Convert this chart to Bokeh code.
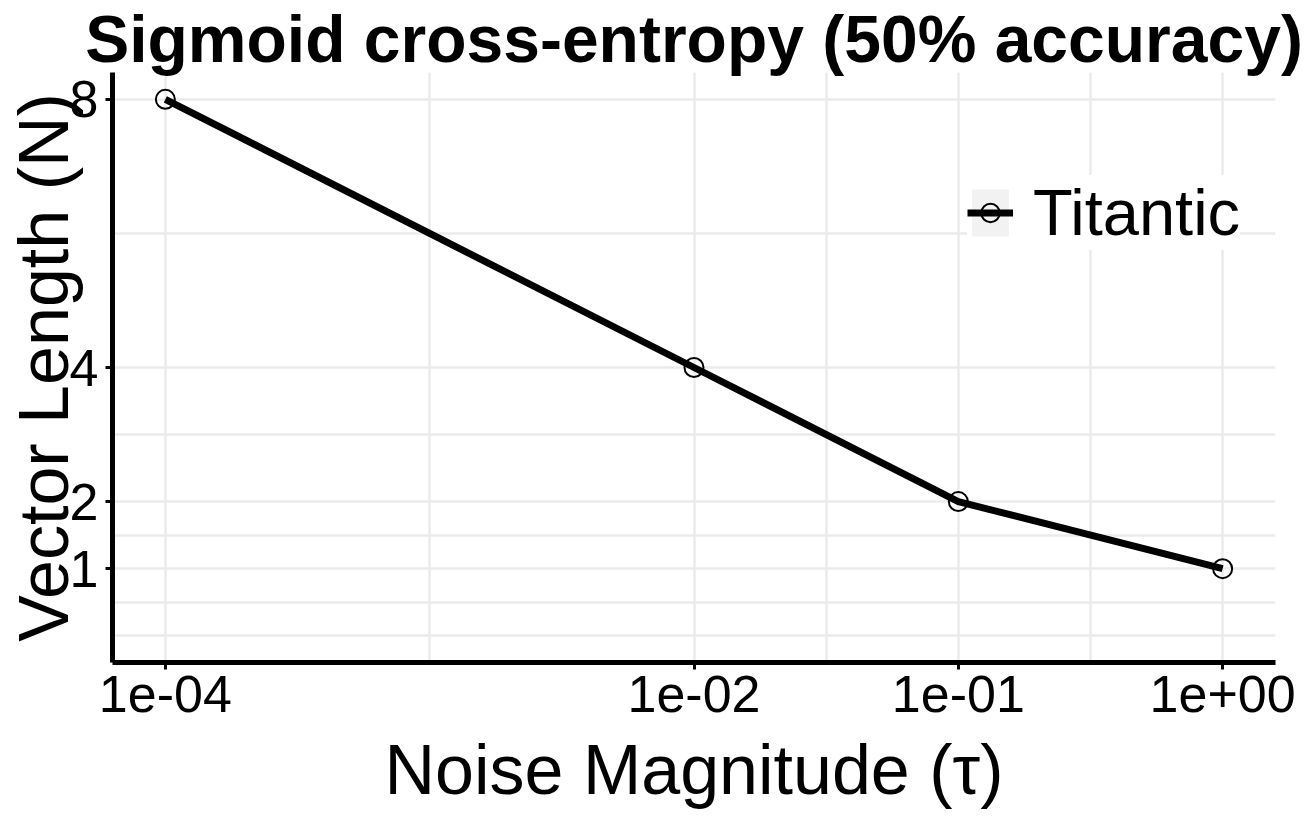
from bokeh.plotting import figure
from bokeh.models import (FixedTicker, CustomJSTickFormatter, Legend,
                          LegendItem)
from bokeh.embed import file_html
from bokeh.resources import INLINE

# ---- data ----
noise = [1e-4, 1e-2, 1e-1, 1e0]
vec_len = [8, 4, 2, 1]
series_name = "Titantic"

x_ticks = [1e-4, 1e-2, 1e-1, 1e0]
x_tick_labels = ["1e-04", "1e-02", "1e-01", "1e+00"]
x_minor = [1e-3, 10 ** -1.5, 10 ** -0.5]
y_ticks = [1, 2, 4, 8]
y_tick_labels = ["1", "2", "4", "8"]
y_minor = [0, 0.5, 1.5, 3, 6]

title_text = "Sigmoid cross-entropy (50% accuracy)"
x_title = "Noise Magnitude (\u03c4)"
y_title = "Vector Length (N)"

FONT = "Liberation Sans"
GRID = "#EBEBEB"
NAN = float("nan")

p = figure(width=1310, height=832, x_axis_type="log",
           x_range=(10 ** -4.2, 10 ** 0.2), y_range=(-0.4, 8.4),
           output_backend="svg", toolbar_location=None,
           title=title_text,
           min_border_left=112, min_border_right=35,
           min_border_top=72, min_border_bottom=170)
p.outline_line_color = None
p.background_fill_color = "white"
p.border_fill_color = "white"

p.title.text_font = FONT
p.title.text_font_size = "66px"
p.title.text_font_style = "bold"
p.title.text_color = "black"
p.title.align = "center"
p.title.standoff = -6

# ticks / grids
xt = FixedTicker(ticks=x_ticks, minor_ticks=x_minor)
yt = FixedTicker(ticks=y_ticks, minor_ticks=y_minor)
p.xaxis.ticker = xt
p.yaxis.ticker = yt
p.xgrid.ticker = xt
p.ygrid.ticker = yt
p.xaxis.formatter = CustomJSTickFormatter(
    args=dict(tick_vals=x_ticks, tick_texts=x_tick_labels),
    code="""
    for (let i = 0; i < tick_vals.length; i++) {
        if (Math.abs(Math.log10(tick_vals[i]) - Math.log10(tick)) < 1e-6) return tick_texts[i];
    }
    return '';
    """)
p.yaxis.major_label_overrides = {t: l for t, l in zip(y_ticks, y_tick_labels)}

for g in (p.xgrid, p.ygrid):
    g.grid_line_color = GRID
    g.grid_line_width = 2.5
    g.minor_grid_line_color = GRID
    g.minor_grid_line_width = 2.5

for ax in (p.xaxis, p.yaxis):
    ax.axis_line_color = "black"
    ax.axis_line_width = 5
    ax.major_tick_line_color = "black"
    ax.major_tick_line_width = 3
    ax.major_tick_out = 7
    ax.major_tick_in = 0
    ax.minor_tick_line_color = None
    ax.major_label_text_font = FONT
    ax.major_label_text_font_size = "52px"
    ax.major_label_text_color = "black"
    ax.axis_label_text_font = FONT
    ax.axis_label_text_font_size = "70px"
    ax.axis_label_text_font_style = "normal"
    ax.axis_label_text_color = "black"
p.xaxis.major_label_standoff = 6
p.yaxis.major_label_standoff = 7
p.xaxis.axis_label = x_title
p.yaxis.axis_label = y_title
p.xaxis.axis_label_standoff = 16
p.yaxis.axis_label_standoff = -16

# ---- data marks ----
key_bg = p.quad(left=[NAN], right=[NAN], top=[NAN], bottom=[NAN],
                fill_color="#F2F2F2", line_color=None)
line_r = p.line(noise, vec_len, line_color="black", line_width=7)
pts_r = p.scatter(noise, vec_len, marker="circle", size=19,
                  fill_color=None, line_color="black", line_width=2)

legend = Legend(items=[LegendItem(label=series_name,
                                  renderers=[key_bg, line_r, pts_r])],
                location=(855, 412), padding=14, spacing=0,
                glyph_width=46, glyph_height=59, label_standoff=20,
                label_text_font=FONT, label_text_font_size="65px",
                label_text_color="black",
                background_fill_color="white", background_fill_alpha=1.0,
                border_line_color=None)
p.add_layout(legend, "center")

open("out.html", "w").write(file_html(p, INLINE))
